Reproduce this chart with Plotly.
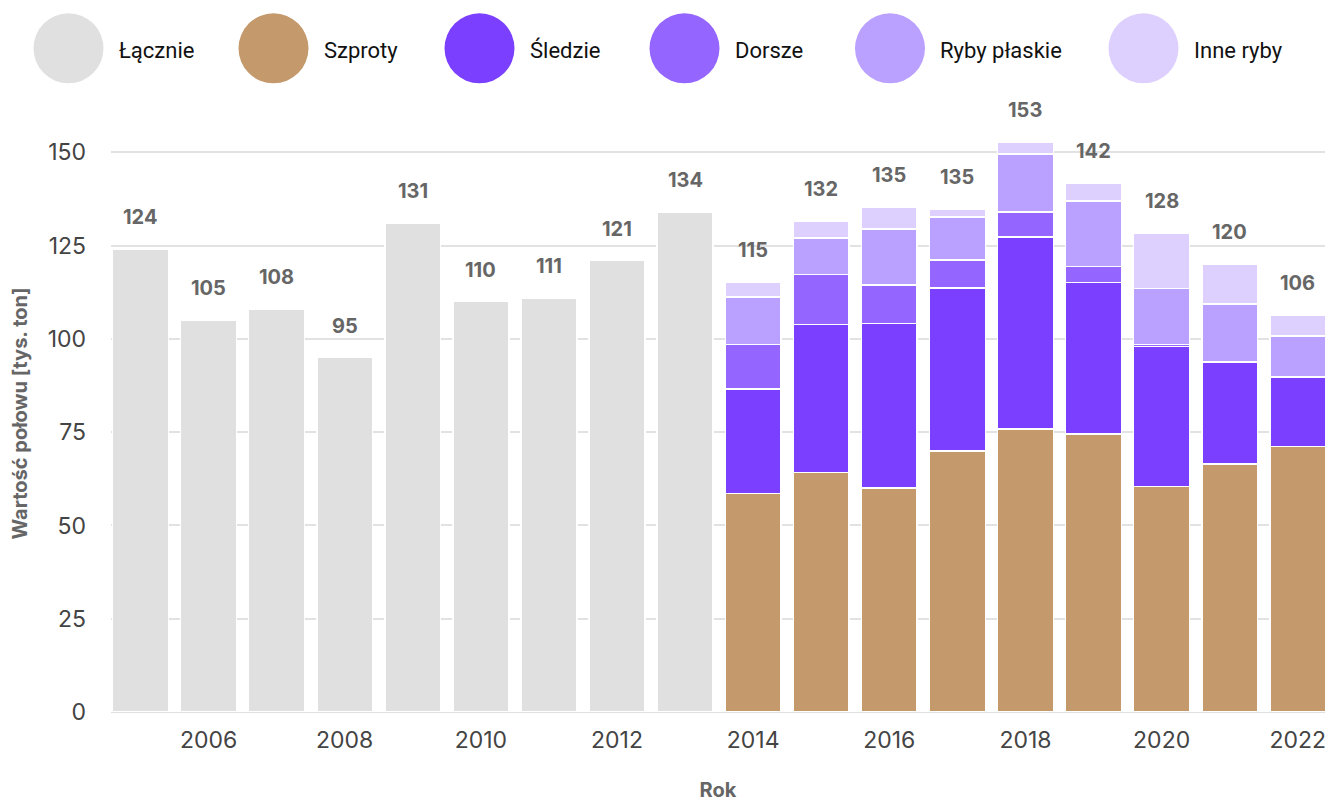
import plotly.graph_objects as go

# Years and catch values [thousand tonnes]
years_total = [2005, 2006, 2007, 2008, 2009, 2010, 2011, 2012, 2013]
total = [124, 105, 108, 95, 131, 110, 111, 121, 134]

years_species = [2014, 2015, 2016, 2017, 2018, 2019, 2020, 2021, 2022]
szproty = [58.6, 64.2, 60.1, 70.0, 75.8, 74.5, 60.5, 66.5, 71.1]
sledzie = [28.0, 39.6, 44.0, 43.7, 51.5, 40.6, 37.4, 27.3, 18.5]
dorsze = [11.9, 13.5, 10.3, 7.4, 6.7, 4.3, 0.6, 0.2, 0.2]
ryby_plaskie = [12.7, 9.7, 15.1, 11.6, 15.6, 17.6, 15.0, 15.3, 11.0]
inne_ryby = [4.0, 4.6, 5.8, 2.0, 3.1, 4.7, 14.9, 10.7, 5.5]

series_names = ["Łącznie", "Szproty", "Śledzie", "Dorsze", "Ryby płaskie", "Inne ryby"]
colors = ["#E0E0E0", "#C49A6C", "#7B3FFF", "#9466FF", "#BBA1FF", "#DDD0FF"]

x_ticks = [2006, 2008, 2010, 2012, 2014, 2016, 2018, 2020, 2022]
y_ticks = [0, 25, 50, 75, 100, 125, 150]

BAR_W = 0.82
FONT = "Inter"

fig = go.Figure()

fig.add_trace(go.Bar(
    x=years_total, y=total, name=series_names[0], width=BAR_W,
    marker=dict(color=colors[0], line=dict(color="white", width=1.5)),
    showlegend=False,
))

for name, vals, col in zip(series_names[1:],
                           [szproty, sledzie, dorsze, ryby_plaskie, inne_ryby],
                           colors[1:]):
    fig.add_trace(go.Bar(
        x=years_species, y=vals, name=name, width=BAR_W,
        marker=dict(color=col, line=dict(color="white", width=1.5)),
        showlegend=False,
    ))

# Value labels above each bar
species_totals = [sum(v) for v in zip(szproty, sledzie, dorsze, ryby_plaskie, inne_ryby)]
all_years = years_total + years_species
all_totals = total + species_totals
annotations = []
for yr, tot in zip(all_years, all_totals):
    annotations.append(dict(
        x=yr, y=tot, xref="x", yref="y", text=f"{round(tot)}",
        showarrow=False, yanchor="bottom", yshift=18,
        font=dict(family=FONT, size=20, color="#666666", weight="bold"),
    ))

# Custom legend: large circles with labels along the top
plot_l, plot_r, plot_t, plot_b = 111, 1325, 114.7, 712
pw, ph = plot_r - plot_l, plot_b - plot_t
legend_circle_x = [68.5, 273.5, 479.5, 684.5, 890, 1143.5]
legend_y = 48
shapes = []
for cx, col, name in zip(legend_circle_x, colors, series_names):
    px = (cx - plot_l) / pw
    py = (plot_b - legend_y) / ph
    shapes.append(dict(
        type="circle", xref="paper", yref="paper",
        xsizemode="pixel", ysizemode="pixel",
        xanchor=px, yanchor=py, x0=-35, x1=35, y0=-35, y1=35,
        fillcolor=col, line=dict(width=0),
    ))
    annotations.append(dict(
        x=(cx + 48 - plot_l) / pw, y=(plot_b - legend_y - 2) / ph,
        xref="paper", yref="paper", xanchor="left", yanchor="middle",
        text=name, showarrow=False,
        font=dict(family="Roboto", size=22, color="#111111"),
    ))

fig.update_layout(
    barmode="stack",
    width=1328, height=802,
    margin=dict(l=plot_l, r=1328 - plot_r, t=plot_t, b=802 - plot_b),
    paper_bgcolor="white", plot_bgcolor="white",
    shapes=shapes, annotations=annotations,
    font=dict(family=FONT),
    xaxis=dict(
        range=[2004.567, 2022.4],
        tickvals=x_ticks, ticktext=[str(t) for t in x_ticks],
        tickfont=dict(family=FONT, size=23, color="#444444"),
        showgrid=False, zeroline=False, automargin=False,
        showline=True, linecolor="#E0E0E0", linewidth=1,
        ticks="", ticklabelstandoff=7,
        title=dict(text="Rok", standoff=30,
                   font=dict(family=FONT, size=20, color="#666666", weight="bold")),
    ),
    yaxis=dict(
        range=[0, 160],
        tickvals=y_ticks, automargin=False,
        tickfont=dict(family=FONT, size=23, color="#444444"),
        showgrid=True, gridcolor="#E2E2E2", gridwidth=1.5,
        zeroline=False, ticks="", ticklabelstandoff=24,
        title=dict(text="Wartość połowu [tys. ton]", standoff=14,
                   font=dict(family=FONT, size=20, color="#666666", weight="bold")),
    ),
)

fig.write_html("out.html")
